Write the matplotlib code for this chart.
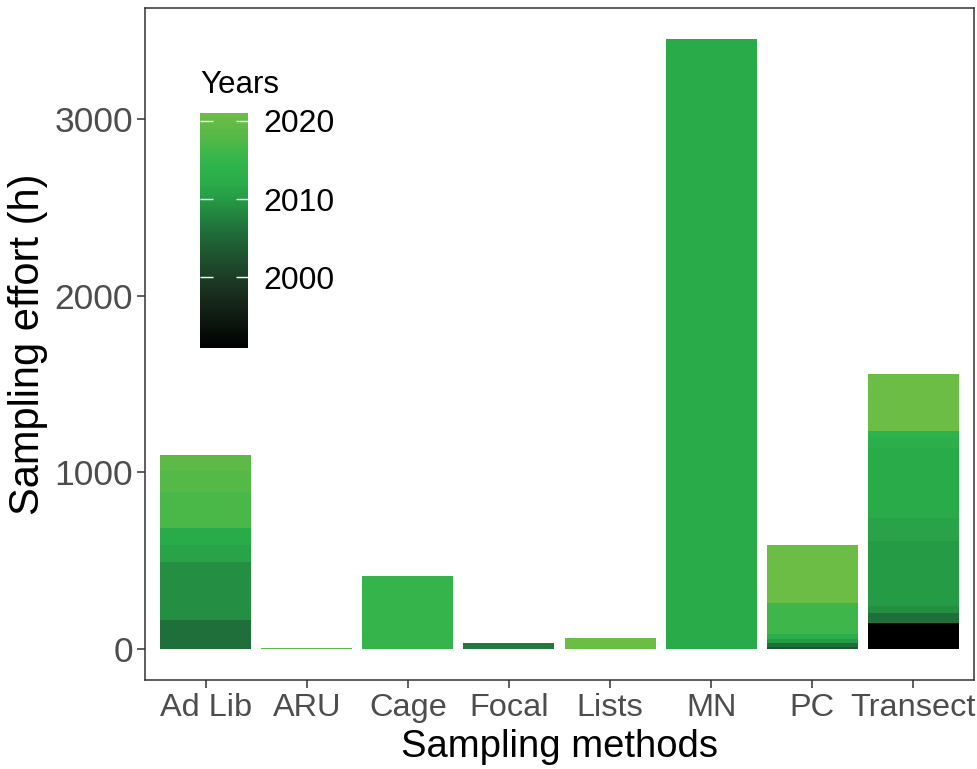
import matplotlib
matplotlib.use("Agg")
import matplotlib.pyplot as plt
from matplotlib.colors import LinearSegmentedColormap, Normalize
from matplotlib.cm import ScalarMappable

plt.rcParams['font.family'] = ['Liberation Sans', 'DejaVu Sans']

# Sampling effort (hours) per method, split by survey year
methods = ["Ad Lib", "ARU", "Cage", "Focal", "Lists", "MN", "PC", "Transect"]

adlib_years = [2006, 2009, 2011, 2012, 2017, 2018, 2019]
adlib_hours = [169, 323, 101, 91, 203, 119, 95]

aru_years = [2019]
aru_hours = [10]

cage_years = [2015]
cage_hours = [414]

focal_years = [2007]
focal_hours = [36]

lists_years = [2021]
lists_hours = [66]

mn_years = [2012]
mn_hours = [3452]

pc_years = [2003, 2006, 2010, 2013, 2016, 2021]
pc_hours = [13, 25, 22, 25, 180, 323]

transect_years = [1991, 2006, 2009, 2010, 2011, 2012, 2013, 2014, 2021]
transect_hours = [151, 56, 38, 368, 131, 392, 60, 41, 317]

year_ticks = [2000, 2010, 2020]
y_ticks = [0, 1000, 2000, 3000]

stacks = [
    (adlib_years, adlib_hours),
    (aru_years, aru_hours),
    (cage_years, cage_hours),
    (focal_years, focal_hours),
    (lists_years, lists_hours),
    (mn_years, mn_hours),
    (pc_years, pc_hours),
    (transect_years, transect_hours),
]

year_min, year_max = 1991, 2021
anchors = [
    (1991, "#000000"),
    (1998, "#1a2e1e"),
    (2003, "#1e5530"),
    (2006, "#1f6e3a"),
    (2008, "#22843f"),
    (2010, "#259a45"),
    (2012, "#2aab4a"),
    (2014, "#2db34b"),
    (2016, "#3db64a"),
    (2018, "#55b947"),
    (2021, "#6cbd45"),
]
cmap = LinearSegmentedColormap.from_list(
    "years",
    [((y - year_min) / (year_max - year_min), c) for y, c in anchors],
)
norm = Normalize(vmin=year_min, vmax=year_max)

fig = plt.figure(figsize=(9.77, 7.69), dpi=100)
ax = fig.add_axes([0.1484, 0.1157, 0.8485, 0.8739])

for i, (yrs, hrs) in enumerate(stacks):
    bottom = 0
    for yr, h in zip(yrs, hrs):
        ax.bar(i, h, bottom=bottom, width=0.9, color=cmap(norm(yr)),
               edgecolor="none", linewidth=0)
        bottom += h

total_max = max(sum(h) for _, h in stacks)
ax.set_xlim(-0.6, len(methods) - 0.4)
ax.set_ylim(-0.05 * total_max, 1.05 * total_max)
ax.set_xticks(range(len(methods)))
ax.set_xticklabels(methods)
ax.set_yticks(y_ticks)

text_gray = "#4d4d4d"
ax.tick_params(axis="both", labelcolor=text_gray,
               color="#333333", length=6, width=1.1, pad=2.5)
ax.tick_params(axis="x", labelsize=23.4, pad=3.5)
ax.tick_params(axis="y", labelsize=25.5)
for s in ax.spines.values():
    s.set_color("#333333")
    s.set_linewidth(1.1)

ax.set_xlabel("Sampling methods", fontsize=27.5, color="black", labelpad=4)
ax.set_ylabel("Sampling effort (h)", fontsize=30, color="black", labelpad=5)

# Year colour bar inside the panel
cax = fig.add_axes([0.2047, 0.5475, 0.0491, 0.3055])
sm = ScalarMappable(norm=norm, cmap=cmap)
cb = fig.colorbar(sm, cax=cax)
cb.outline.set_visible(False)
cb.set_ticks(year_ticks)
cax.tick_params(axis="y", direction="in", color="white", length=9, width=1,
                left=True, right=True, labelleft=False, labelright=True,
                labelsize=23, labelcolor="black", pad=11)
fig.text(0.2047, 0.889, "Years", fontsize=22.5, color="black",
         ha="left", va="center")

fig.savefig("out.png", dpi=100)
